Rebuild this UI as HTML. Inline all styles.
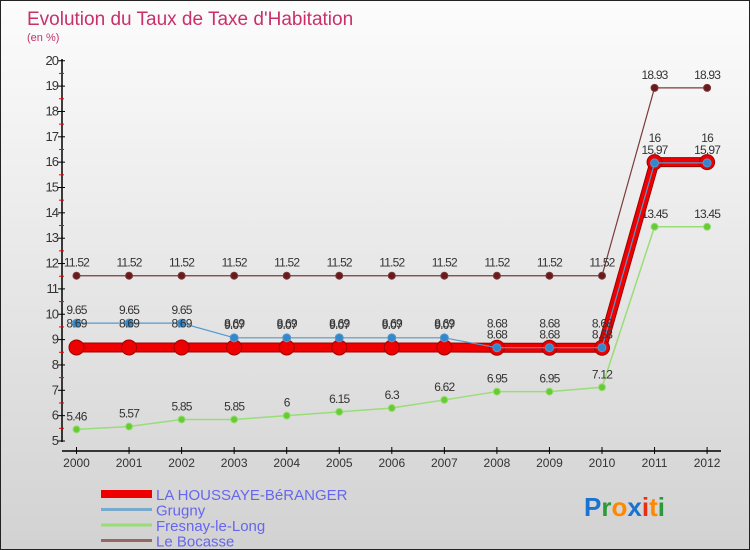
<!DOCTYPE html>
<html><head><meta charset="utf-8"><style>
body{margin:0}
#c{width:748px;height:548px;border:1px solid #222;background:linear-gradient(#fcfcfc,#d2d2d2);position:relative;overflow:hidden;font-family:"Liberation Sans",sans-serif}
svg{position:absolute;left:0;top:0}
</style></head><body>
<div id="c">
<svg id="s" width="750" height="550">
<text x="26" y="24" font-size="19" fill="#c8306a">Evolution du Taux de Taxe d'Habitation</text>
<text x="26" y="40" font-size="11" fill="#c8306a">(en %)</text>
</svg>
</div>
<script>
const years=[2000,2001,2002,2003,2004,2005,2006,2007,2008,2009,2010,2011,2012];
const yTicks=[5,6,7,8,9,10,11,12,13,14,15,16,17,18,19,20];
const main=[8.69,8.69,8.69,8.69,8.69,8.69,8.69,8.69,8.68,8.68,8.68,16,16];
const grugny=[9.65,9.65,9.65,9.07,9.07,9.07,9.07,9.07,8.68,8.68,8.68,15.97,15.97];
const fresnay=[5.46,5.57,5.85,5.85,6,6.15,6.3,6.62,6.95,6.95,7.12,13.45,13.45];
const bocasse=[11.52,11.52,11.52,11.52,11.52,11.52,11.52,11.52,11.52,11.52,11.52,18.93,18.93];
const names=["LA HOUSSAYE-BéRANGER","Grugny","Fresnay-le-Long","Le Bocasse"];
const NS="http://www.w3.org/2000/svg",s=document.getElementById('s');
const X=i=>75.5+i*52.55, Y=v=>440-(v-5)*25.35;
function el(t,a,p){const e=document.createElementNS(NS,t);for(const k in a)e.setAttribute(k,a[k]);(p||s).appendChild(e);return e;}
let ax=el('line',{x1:61,y1:58,x2:61,y2:441,stroke:'#000','stroke-width':1.5});


let xa=el('line',{x1:61,y1:450,x2:720,y2:450,stroke:'#000','stroke-width':1.5});


yTicks.forEach(v=>{
  el('line',{x1:57,x2:64,y1:Y(v),y2:Y(v),stroke:'#000'});
  if(v<20) el('line',{x1:58,x2:63,y1:Y(v+0.5),y2:Y(v+0.5),stroke:'#e00'});
  const t=el('text',{x:57,y:Y(v)+4,'font-size':13,fill:'#333','text-anchor':'end','letter-spacing':'-1'});
  t.textContent=v;
  
  
});
years.forEach((y,i)=>{
  el('line',{x1:X(i),x2:X(i),y1:446,y2:453,stroke:'#000'});
  const t=el('text',{x:X(i),y:466,'font-size':12,fill:'#333','text-anchor':'middle'});
  t.textContent=y;
  
  
});
function series(d,col,w,r,dot,name,lab,outline){
  const g=el('g',{});
  
  
  const pts=d.map((v,i)=>X(i)+','+Y(v)).join(' ');
  if(outline) el('polyline',{points:pts,fill:'none',stroke:outline,'stroke-width':w+2},g);
  el('polyline',{points:pts,fill:'none',stroke:col,'stroke-width':w},g);
  d.forEach((v,i)=>{
    const c=el('circle',{cx:X(i),cy:Y(v),r:r,fill:dot,stroke:outline||col,'stroke-width':1},g);
    
    
    if(lab){const t=el('text',{x:X(i),y:Y(v)-9,'font-size':12,fill:'#333','text-anchor':'middle','letter-spacing':'-0.8'},g);t.textContent=v;}
  });
}
series(bocasse,'#7a3a3a',1.2,3.5,'#6a1a1a','le-bocasse-series',true);
series(fresnay,'#99dd77',1.5,3.5,'#66cc33','fresnay-series',true);
series(main,'#ee0000',8,7.5,'#ee0000','la-houssaye-series',false,'#a00000');
series(grugny,'#5599cc',1.2,4,'#3388cc','grugny-series',true);
main.forEach((v,i)=>{const t=el('text',{x:X(i),y:Y(v)-20,'font-size':12,fill:'#333','text-anchor':'middle','letter-spacing':'-0.8'});t.textContent=v;});
const cols=['#ee0000','#77aacc','#99dd77','#996666'],ws=[8,3,3,3];
names.forEach((n,i)=>{
  const y=493+i*15.5;
  const g=el('g',{});
  
  
  el('line',{x1:100,x2:151,y1:y,y2:y,stroke:cols[i],'stroke-width':ws[i]},g);
  const t=el('text',{x:155,y:y+6,'font-size':15,fill:'#6666ee'},g);t.textContent=n;
});
const lg=el('text',{x:583,y:515,'font-size':26,'font-family':'Liberation Sans, sans-serif','font-weight':'bold'});


[['P','#1a73d0'],['r','#2a9a3a'],['o','#ff8800'],['x','#1a73d0'],['i','#e83010'],['t','#ff8800'],['i','#2a9a3a']].forEach(([c,f])=>{const ts=el('tspan',{fill:f},lg);ts.textContent=c;});
</script>
</body></html>
